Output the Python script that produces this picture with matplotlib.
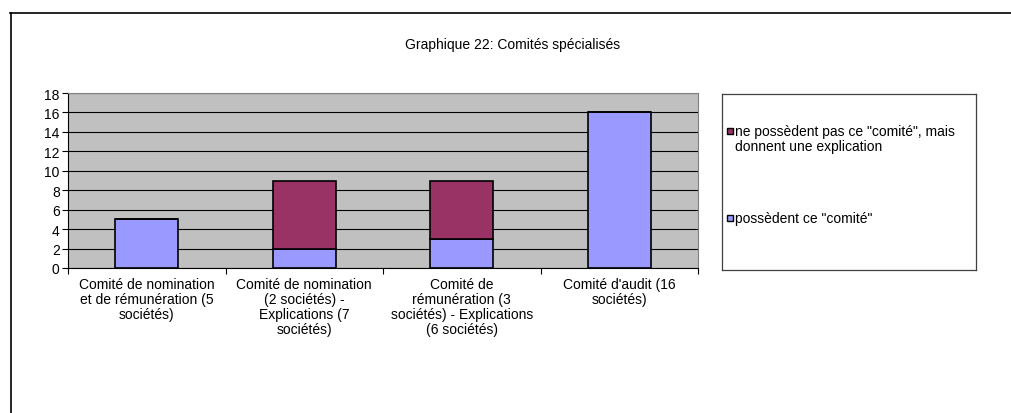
import matplotlib
matplotlib.use("Agg")
import matplotlib.pyplot as plt
from matplotlib.patches import Rectangle
from matplotlib.lines import Line2D

plt.rcParams["font.family"] = ["Liberation Sans", "DejaVu Sans"]

# ── Data ──────────────────────────────────────────────────────────────────────
categories = [
    "Comité de nomination\net de rémunération (5\nsociétés)",
    "Comité de nomination\n(2 sociétés) -\nExplications (7\nsociétés)",
    "Comité de\nrémunération (3\nsociétés) - Explications\n(6 sociétés)",
    "Comité d'audit (16\nsociétés)",
]
possedent = [5, 2, 3, 16]
explication = [0, 7, 6, 0]
y_ticks = list(range(0, 19, 2))

label_pos = 'possèdent ce "comité"'
label_expl = 'ne possèdent pas ce "comité", mais\ndonnent une explication'

FS = 10

# ── Plot ──────────────────────────────────────────────────────────────────────
fig = plt.figure(figsize=(10.11, 4.14), dpi=100)
W, H = 1011, 414

# outer frame lines (top + left)
fig.add_artist(Line2D([10 / W, 1.0], [1 - 13.5 / H] * 2, color="black", lw=1.2,
                      transform=fig.transFigure))
fig.add_artist(Line2D([10.5 / W] * 2, [0, 1 - 13.5 / H], color="black", lw=1.2,
                      transform=fig.transFigure))

ax = fig.add_axes([68 / W, 1 - 269 / H, 630 / W, 175 / H])
ax.set_facecolor("#c0c0c0")

x = range(len(categories))
ax.bar(x, possedent, width=0.4, color="#9999ff", edgecolor="black", lw=1.2,
       label=label_pos, zorder=3)
ax.bar(x, explication, width=0.4, bottom=possedent, color="#993366",
       edgecolor="black", lw=1.2, label=label_expl, zorder=3)

ax.set_xlim(-0.5, len(categories) - 0.5)
ax.set_ylim(0, 18)
ax.set_yticks(y_ticks)
ax.tick_params(axis="y", labelsize=FS, length=4, width=0.8, pad=2)
ax.yaxis.grid(True, color="black", lw=0.8, zorder=1)
ax.set_axisbelow(True)

ax.set_xticks([i - 0.5 for i in range(len(categories) + 1)])
ax.set_xticklabels([])
ax.tick_params(axis="x", length=4, width=0.8, direction="out")
for i, c in enumerate(categories):
    ax.text(i, -0.9, c, ha="center", va="top", fontsize=FS, linespacing=1.1)

for s in ["top", "right"]:
    ax.spines[s].set_color("#808080")
ax.spines["left"].set_color("black")
ax.spines["bottom"].set_color("black")

fig.text(513 / W, 1 - 45 / H, "Graphique 22: Comités spécialisés",
         ha="center", va="center", fontsize=FS)

# legend box
lax = fig.add_axes([722 / W, 1 - 271 / H, 254 / W, 176 / H])
lax.set_xticks([])
lax.set_yticks([])
lax.set_xlim(0, 254)
lax.set_ylim(176, 0)
for s in lax.spines.values():
    s.set_color("#404040")
    s.set_linewidth(0.9)
lax.add_patch(Rectangle((5, 34), 6, 6, facecolor="#993366", edgecolor="black", lw=1))
lax.text(13, 30, label_expl, va="top", ha="left", fontsize=FS, linespacing=1.1)
lax.add_patch(Rectangle((5, 121), 6, 6, facecolor="#9999ff", edgecolor="black", lw=1))
lax.text(13, 124, label_pos, va="center", ha="left", fontsize=FS)

fig.savefig("out.png", dpi=100)
